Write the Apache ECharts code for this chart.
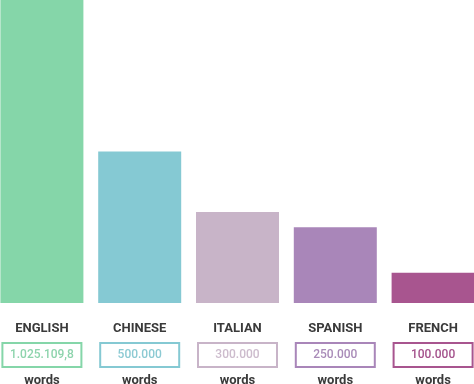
<!DOCTYPE html>
<html><head><meta charset="utf-8">
<script src="https://cdn.jsdelivr.net/npm/echarts@6/dist/echarts.min.js"></script>
<style>html,body{margin:0;padding:0;background:#fff;overflow:hidden;width:474px;height:384px}#c{width:489px;height:384px;margin-left:-7px}</style>
</head><body><div id="c"></div>
<script>
const categories = ['ENGLISH', 'CHINESE', 'ITALIAN', 'SPANISH', 'FRENCH'];
const wordCounts = [1025109.8, 500000, 300000, 250000, 100000];
const countLabels = ['1.025.109,8', '500.000', '300.000', '250.000', '100.000'];
const unitLabel = 'words';

const barColors = ['#85d6a9', '#85c9d3', '#c8b4c8', '#a986b9', '#a8558f'];
const textColors = ['#8ed4ad', '#8ccad3', '#cdbccd', '#a98bb8', '#a4528c'];

const rich = {
  n: { fontFamily: 'Roboto, sans-serif', fontSize: 13, fontWeight: 'bold', color: '#3a3a3a', lineHeight: 26 },
  w: { fontFamily: 'Roboto, sans-serif', fontSize: 13, fontWeight: 'bold', color: '#3a3a3a', lineHeight: 26 }
};
categories.forEach((c, i) => {
  rich['b' + i] = {
    fontFamily: 'Roboto, sans-serif', fontSize: 12, fontWeight: 500, color: textColors[i],
    borderColor: barColors[i], borderWidth: 2, width: 79, height: 24,
    align: 'center', lineHeight: 26
  };
});

const chart = echarts.init(document.getElementById('c'), null, { renderer: 'canvas' });
chart.setOption({
  animation: false,
  grid: { left: 0, right: 0, top: 0, bottom: 81, containLabel: false, outerBoundsMode: 'none' },
  xAxis: {
    type: 'category', data: categories,
    axisLine: { show: false }, axisTick: { show: false },
    axisLabel: {
      interval: 0, margin: 13,
      formatter: (v, i) => '{n|' + v + '}\n{b' + i + '|' + countLabels[i] + '}\n{w|' + unitLabel + '}',
      rich: rich
    }
  },
  yAxis: { type: 'value', min: 0, max: 1000000, show: false, splitLine: { show: false } },
  series: [{
    type: 'bar', barWidth: 83,
    data: wordCounts.map((v, i) => ({ value: v, itemStyle: { color: barColors[i] } }))
  }]
});
</script></body></html>
